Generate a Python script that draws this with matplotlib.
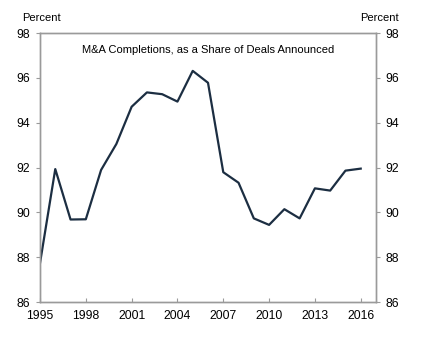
import numpy as np
import matplotlib.pyplot as plt

plt.rcParams['font.family'] = ['Liberation Sans', 'DejaVu Sans']

years = np.arange(1995, 2017)
share = [87.73, 91.93, 89.68, 89.69, 91.89, 93.05, 94.71, 95.35, 95.27, 94.94,
         96.31, 95.78, 91.79, 91.32, 89.73, 89.44, 90.14, 89.73, 91.07, 90.97,
         91.86, 91.95]
xticks = [1995, 1998, 2001, 2004, 2007, 2010, 2013, 2016]
yticks = [86, 88, 90, 92, 94, 96, 98]

fig = plt.figure(figsize=(4.32, 3.41), dpi=100)
ax = fig.add_axes([40 / 432, 1 - 302 / 341, 336 / 432, 269 / 341])

ax.plot(years, share, color='#1c2e42', lw=1.6)

ax.set_xlim(1995, 2017)
ax.set_ylim(86, 98)
ax.set_xticks(xticks)
ax.set_yticks(yticks)

ax2 = ax.twinx()
ax2.set_ylim(86, 98)
ax2.set_yticks(yticks)

for a in (ax, ax2):
    for s in a.spines.values():
        s.set_color('#9a9a9a')
        s.set_linewidth(1.0)
    a.tick_params(axis='y', direction='out', length=3, color='#9a9a9a',
                  labelsize=8.8, pad=4)
ax.tick_params(axis='x', direction='in', length=3, color='#9a9a9a',
               labelsize=8.8, pad=6)

ax.text(0.5, 0.955, 'M&A Completions, as a Share of Deals Announced',
        transform=ax.transAxes, ha='center', va='top', fontsize=8)
fig.text(41 / 432, 1 - 18 / 341, 'Percent', ha='center', va='center', fontsize=8)
fig.text(379 / 432, 1 - 18 / 341, 'Percent', ha='center', va='center', fontsize=8)

fig.savefig('out.png', dpi=100)
